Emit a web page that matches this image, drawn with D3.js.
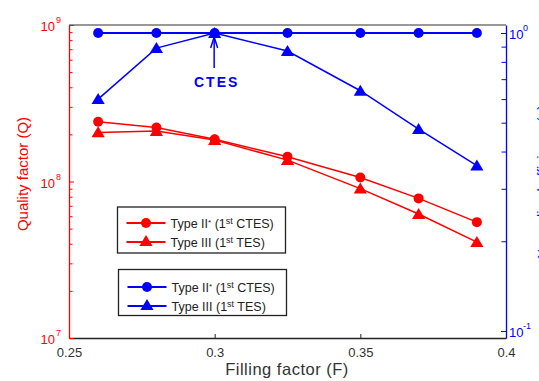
<!DOCTYPE html>
<html><head><meta charset="utf-8">
<script src="https://cdn.jsdelivr.net/npm/d3@7"></script>
<style>body{margin:0;background:#fff;}svg{display:block;font-family:"Liberation Sans",Arial,sans-serif;}</style>
</head><body>
<script>
const fillFactor=[0.26,0.28,0.30,0.325,0.35,0.37,0.39];
const qTypeIIstar=[2.41e8,2.21e8,1.86e8,1.44e8,1.06e8,7.8e7,5.5e7];
const qTypeIII=[2.06e8,2.10e8,1.84e8,1.37e8,9.0e7,6.2e7,4.1e7];
const rTypeIIstar=[1,1,1,1,1,1,1];
const rTypeIII=[0.60,0.89,1.0,0.87,0.64,0.476,0.359];
const xTicks=[0.25,0.3,0.35,0.4];
const xTickLabels=["0.25","0.3","0.35","0.4"];
const leftTicks=[1e7,1e8,1e9];
const leftTickExp=["7","8","9"];
const rightTicks=[0.1,1];
const rightTickExp=["-1","0"];
const legendLabels=["Type II","Type III"];
const legendNotes=["CTES)","TES)"];

const W=539,H=381;
const L=69,R=506,T=25,B=338;
const RED="#ff0000",BLUE="#0000ff";
const svg=d3.select("body").append("svg").attr("width",W).attr("height",H);

const x=d3.scaleLinear().domain([0.25,0.4]).range([L,R]);
const yL=d3.scaleLog().domain([1e7,1e9]).range([B,T]);
const yR=d3.scaleLog().domain([0.0947,1.0637]).range([B,T]);

// top border
svg.append("line").attr("x1",L).attr("x2",R).attr("y1",T).attr("y2",T).attr("stroke","#333").attr("stroke-width",1.2);

// x axis
const xa=svg.append("g").attr("transform",`translate(0,${B})`)
 .call(d3.axisBottom(x).tickValues(xTicks).tickSizeInner(-4).tickSizeOuter(0).tickPadding(10)
   .tickFormat((d,i)=>xTickLabels[i]));
xa.select(".domain").attr("stroke","#222").attr("stroke-width",1.3);
xa.selectAll(".tick line").attr("stroke","#222");
xa.selectAll(".tick text").attr("fill","#333").style("font-size","13px").attr("font-family","Liberation Sans, Arial");
svg.append("text").attr("x",287).attr("y",375).attr("text-anchor","middle").attr("fill","#333")
 .style("font-size","16.5px").style("letter-spacing","0.5px").text("Filling factor (F)");

// left axis
const leftMinor=[];
[1e7,1e8].forEach(b=>{for(let k=2;k<=9;k++)leftMinor.push(b*k);});
const la=svg.append("g").attr("transform",`translate(${L},0)`)
 .call(d3.axisLeft(yL).tickValues(leftMinor).tickSizeInner(-3.5).tickSizeOuter(0).tickFormat(""));
la.select(".domain").attr("stroke",RED).attr("stroke-width",1.3);
la.selectAll(".tick line").attr("stroke",RED);
const la2=svg.append("g").attr("transform",`translate(${L},0)`)
 .call(d3.axisLeft(yL).tickValues(leftTicks).tickSizeInner(-5).tickSizeOuter(0).tickPadding(16).tickFormat(""));
la2.select(".domain").remove();
la2.selectAll(".tick line").attr("stroke",RED);
leftTicks.forEach((v,i)=>{
  svg.append("text").attr("x",55).attr("y",yL(v)+6).attr("text-anchor","end").attr("fill",RED).style("font-size","13px").text("10");
  svg.append("text").attr("x",56).attr("y",yL(v)-2).attr("fill",RED).style("font-size","9px").text(leftTickExp[i]);
});
svg.append("text").attr("transform","translate(28,174) rotate(-90)").attr("text-anchor","middle")
 .attr("fill",RED).style("font-size","15px").text("Quality factor (Q)");

// right axis
const rightMinor=[0.2,0.3,0.4,0.5,0.6,0.7,0.8,0.9];
const ra=svg.append("g").attr("transform",`translate(${R},0)`)
 .call(d3.axisRight(yR).tickValues(rightMinor).tickSizeInner(-4.5).tickSizeOuter(0).tickFormat(""));
ra.select(".domain").attr("stroke",BLUE).attr("stroke-width",1.3);
ra.selectAll(".tick line").attr("stroke",BLUE);
const ra2=svg.append("g").attr("transform",`translate(${R},0)`)
 .call(d3.axisRight(yR).tickValues(rightTicks).tickSizeInner(-5).tickSizeOuter(0).tickFormat(""));
ra2.select(".domain").remove();
ra2.selectAll(".tick line").attr("stroke",BLUE);
rightTicks.forEach((v,i)=>{
  svg.append("text").attr("x",509).attr("y",yR(v)+6).attr("fill",BLUE).style("font-size","13px").text("10");
  svg.append("text").attr("x",523).attr("y",yR(v)-2).attr("fill",BLUE).style("font-size","9px").text(rightTickExp[i]);
});
// right-axis title (clipped by the figure edge, as in the reference)
svg.append("text").attr("transform","translate(548,182) rotate(-90)").attr("text-anchor","middle")
 .attr("fill",BLUE).style("font-size","14px").text("Normalized efficiency (η)");

// marks
function tri(cx,cy,s){return `M${cx},${cy-s*0.55}L${cx+s*0.6},${cy+s*0.45}L${cx-s*0.6},${cy+s*0.45}Z`;}
function series(vals,scale,color,marker,lw){
  const pts=fillFactor.map((f,i)=>[x(f),scale(vals[i])]);
  svg.append("path").attr("d",d3.line()(pts)).attr("fill","none").attr("stroke",color).attr("stroke-width",lw);
  pts.forEach(p=>{
    if(marker==="o") svg.append("circle").attr("cx",p[0]).attr("cy",p[1]).attr("r",5).attr("fill",color);
    else svg.append("path").attr("d",tri(p[0],p[1],11)).attr("fill",color);
  });
}
series(qTypeIIstar,yL,RED,"o",1.5);
series(qTypeIII,yL,RED,"^",1.5);
series(rTypeIII,yR,BLUE,"^",1.5);
series(rTypeIIstar,yR,BLUE,"o",2);

// CTES annotation
const ax=x(0.30);
svg.append("line").attr("x1",ax-0.5).attr("x2",ax-0.5).attr("y1",68).attr("y2",37).attr("stroke",BLUE).attr("stroke-width",1.5);
svg.append("path").attr("d",`M${ax-4},${48}L${ax-0.5},${37}L${ax+3},${48}`).attr("fill","none").attr("stroke",BLUE).attr("stroke-width",1.5);
svg.append("text").attr("x",ax+2).attr("y",87).attr("text-anchor","middle").attr("fill",BLUE)
 .style("font-size","14px").style("font-weight","bold").style("letter-spacing","2px").text("CTES");

// legends
function legend(x0,y0,w,h,color,rows){
  svg.append("rect").attr("x",x0).attr("y",y0).attr("width",w).attr("height",h).attr("fill","#fff").attr("stroke","#222").attr("stroke-width",1.3);
  rows.forEach((r,i)=>{
    const yy=r.y;
    svg.append("line").attr("x1",x0+9).attr("x2",x0+48).attr("y1",yy).attr("y2",yy).attr("stroke",color).attr("stroke-width",2);
    if(i===0) svg.append("circle").attr("cx",x0+28.5).attr("cy",yy).attr("r",5).attr("fill",color);
    else svg.append("path").attr("d",tri(x0+28.5,yy-1,11)).attr("fill",color);
    const t=svg.append("text").attr("x",x0+53).attr("y",yy+4.5).attr("fill","#222").style("font-size","12.5px");
    t.append("tspan").text(legendLabels[i]);
    if(i===0) t.append("tspan").attr("dy",-3).style("font-size","8px").text("*");
    t.append("tspan").attr("dy",i===0?3:0).text(" (1");
    t.append("tspan").attr("dy",-4).style("font-size","9px").text("st");
    t.append("tspan").attr("dy",4).text(" "+legendNotes[i]);
  });
}
legend(117.5,207,168,46,RED,[{y:223},{y:242}]);
legend(118.5,269.5,168,46,BLUE,[{y:287},{y:306}]);
</script>
</body></html>
